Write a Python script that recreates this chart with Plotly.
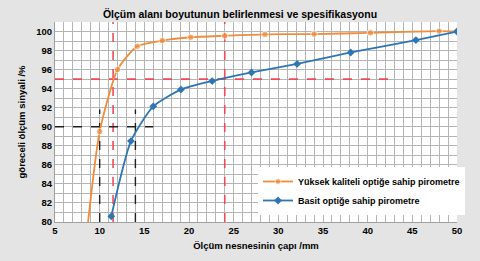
import plotly.graph_objects as go

# Data
hq_x = [8.7, 10.0, 12.0, 14.2, 17.0, 20.2, 24.0, 28.5, 34.0, 40.3, 48.0, 50.0]
hq_y = [80.0, 89.5, 96.0, 98.45, 99.05, 99.4, 99.55, 99.7, 99.73, 99.86, 100.04, 100.0]
basic_x = [11.3, 13.5, 16.0, 19.1, 22.6, 27.0, 32.1, 38.1, 45.4, 50.0]
basic_y = [80.6, 88.5, 92.15, 93.9, 94.8, 95.7, 96.6, 97.8, 99.1, 100.0]

red_v_x = [11.5, 24.0]
red_h_y = 95.0
red_h_end = 43.0
black_v_x = [10.0, 14.0]
black_h_y = 90.0
black_h_end = 16.0
black_v_top = 91.8

x_ticks = [5, 10, 15, 20, 25, 30, 35, 40, 45, 50]
y_ticks = [80, 82, 84, 86, 88, 90, 92, 94, 96, 98, 100]

ORANGE = "#f08c3c"
BLUE = "#2e75b6"
RED = "#f04a5a"
BLACK = "#202020"

fig = go.Figure()

# reference lines
for xv in red_v_x:
    fig.add_trace(go.Scatter(x=[xv, xv], y=[80, 101], mode="lines",
                             line=dict(color=RED, width=1.6, dash="dash"),
                             showlegend=False, hoverinfo="skip"))
fig.add_trace(go.Scatter(x=[5, red_h_end], y=[red_h_y, red_h_y], mode="lines",
                         line=dict(color=RED, width=1.6, dash="dash"),
                         showlegend=False, hoverinfo="skip"))
for xv in black_v_x:
    fig.add_trace(go.Scatter(x=[xv, xv], y=[80, black_v_top], mode="lines",
                             line=dict(color=BLACK, width=1.4, dash="dash"),
                             showlegend=False, hoverinfo="skip"))
fig.add_trace(go.Scatter(x=[5, black_h_end], y=[black_h_y, black_h_y], mode="lines",
                         line=dict(color=BLACK, width=1.4, dash="dash"),
                         showlegend=False, hoverinfo="skip"))

hq_sizes = [0] + [6.5] * (len(hq_x) - 1)
fig.add_trace(go.Scatter(x=hq_x, y=hq_y, mode="lines+markers",
                         name="<b>Yüksek kaliteli optiğe sahip pirometre</b>",
                         line=dict(color=ORANGE, width=1.8, shape="spline", smoothing=0.6),
                         marker=dict(color=ORANGE, size=hq_sizes, symbol="circle")))
fig.add_trace(go.Scatter(x=basic_x, y=basic_y, mode="lines+markers",
                         name="<b>Basit optiğe sahip pirometre</b>",
                         line=dict(color=BLUE, width=1.8, shape="spline", smoothing=0.6),
                         marker=dict(color=BLUE, size=6, symbol="diamond")))

fig.update_layout(
    width=480, height=261,
    margin=dict(l=55, r=23, t=22, b=39),
    paper_bgcolor="#e4e4e4",
    plot_bgcolor="white",
    font=dict(family="Liberation Sans, Arial, sans-serif", size=9, color="black"),
    title=dict(text="<b>Ölçüm alanı boyutunun belirlenmesi ve spesifikasyonu</b>",
               x=0.5, xanchor="center", y=0.947, yanchor="middle",
               font=dict(size=10.5)),
    legend=dict(x=0.505, y=0.275, xanchor="left", yanchor="top",
                bgcolor="white", font=dict(size=9), tracegroupgap=6,
                itemwidth=30),
    showlegend=True,
)
fig.update_xaxes(range=[5, 50], tickvals=x_ticks,
                 ticktext=[f"<b>{v}</b>" for v in x_ticks],
                 showgrid=True, gridcolor="#b4b4b4", gridwidth=1,
                 minor=dict(dtick=1, showgrid=True, gridcolor="#b4b4b4", gridwidth=1),
                 showline=True, linecolor="#a0a0a0", zeroline=False,
                 title=dict(text="<b>Ölçüm nesnesinin çapı /mm</b>", font=dict(size=9.5), standoff=6),
                 tickfont=dict(size=9.5))
fig.update_yaxes(range=[80, 101], tickvals=y_ticks,
                 ticktext=[f"<b>{v}</b>" for v in y_ticks],
                 showgrid=True, gridcolor="#b4b4b4", gridwidth=1,
                 minor=dict(dtick=1, tick0=80, showgrid=True, gridcolor="#b4b4b4", gridwidth=1),
                 showline=True, linecolor="#a0a0a0", zeroline=False,
                 title=dict(text="<b>göreceli ölçüm sinyali /%</b>", font=dict(size=9.5), standoff=8),
                 tickfont=dict(size=9.5))

fig.write_html("out.html")
